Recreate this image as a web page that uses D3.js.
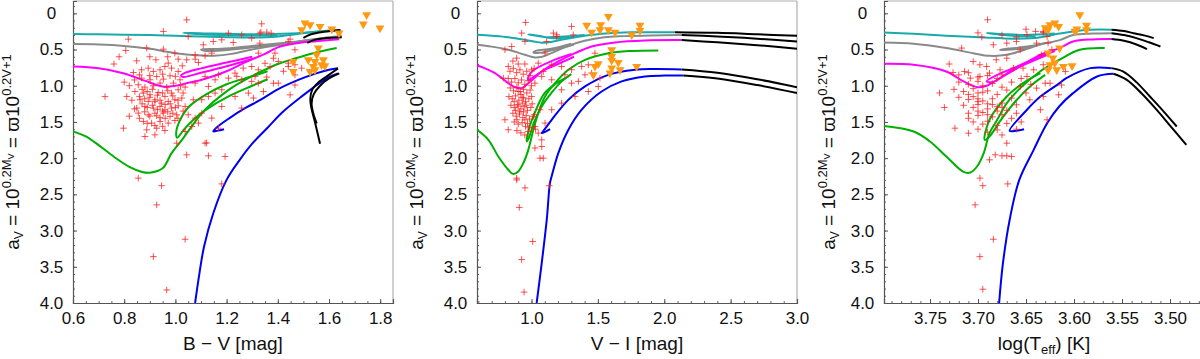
<!DOCTYPE html>
<html>
<head>
<meta charset="utf-8">
<script src="https://cdn.jsdelivr.net/npm/d3@7"></script>
<style>
body { margin: 0; background: #fff; }
svg { display: block; font-family: "Liberation Sans", "DejaVu Sans", sans-serif; }
</style>
</head>
<body>
<script>
// shared y axis (a_V)
const yTicks = [0, 0.5, 1.0, 1.5, 2.0, 2.5, 3.0, 3.5, 4.0];
const bvTicks = [0.6, 0.8, 1.0, 1.2, 1.4, 1.6, 1.8];
const viTicks = [1.0, 1.5, 2.0, 2.5, 3.0];
const teffTicks = [3.75, 3.70, 3.65, 3.60, 3.55, 3.50];

// ---- panel 1 : B-V ----
const bvStars = [
  [1.044,0.09],[0.953,0.25],[0.816,0.357],[0.806,0.513],[0.888,0.48],[0.953,0.495],[0.849,0.656],[0.924,0.642],
  [0.972,0.688],[0.998,0.55],[1.027,0.725],[1.044,0.642],[1.077,0.633],[1.09,0.68],[1.116,0.587],[1.142,0.55],
  [1.109,0.435],[1.148,0.389],[1.181,0.366],[1.207,0.274],[1.259,0.297],[1.226,0.403],[1.298,0.343],[1.33,0.274],
  [1.337,0.145],[1.05,0.32],[1.077,0.573],[1.011,0.633],
  [0.836,0.817],[0.868,0.78],[0.894,0.757],[0.914,0.803],[0.94,0.78],[0.959,0.734],[0.985,0.757],[1.011,0.803],
  [0.868,0.895],[0.901,0.918],[0.927,0.872],[0.953,0.909],[0.979,0.863],[0.855,0.987],[0.881,1.019],[0.914,1.001],
  [0.94,0.964],[0.966,1.019],[0.992,0.964],[1.018,0.918],[0.842,1.079],[0.875,1.102],[0.901,1.125],[0.933,1.093],
  [0.959,1.148],[0.985,1.102],[1.011,1.056],[1.038,1.019],[0.862,1.194],[0.894,1.217],[0.92,1.194],[0.946,1.24],
  [0.972,1.217],[0.998,1.194],[1.025,1.171],[0.881,1.286],[0.914,1.309],[0.94,1.286],[0.959,1.332],[0.985,1.309],
  [1.011,1.277],[0.855,1.378],[0.894,1.401],[0.927,1.415],[0.953,1.378],[0.979,1.424],[1.005,1.401],[0.875,1.493],
  [0.907,1.516],[0.94,1.493],[0.972,1.516],[0.998,1.48],[0.888,1.609],[0.927,1.586],[0.959,1.618],[0.881,1.701],
  [0.92,1.678],[0.81,1.148],[0.797,1.586],[0.849,1.309],[1.038,1.286],[1.05,1.401],[1.077,1.447],[1.103,1.378],
  [1.064,1.563],[1.09,1.516],[1.038,1.632],[1.005,1.793],[1.07,1.194],[1.103,1.194],[1.129,1.148],[1.155,1.102],
  [1.181,1.056],[1.129,1.01],[1.155,0.918],[1.077,0.964],[1.116,0.872],[1.168,0.849],[1.207,0.895],[1.233,0.826],
  [1.259,0.918],[1.265,0.757],[1.298,0.734],[1.311,0.872],[1.285,1.102],[1.233,1.148],[1.259,1.309],[1.181,1.286],
  [1.142,1.447],[1.168,1.586],[1.116,1.793],[1.044,1.954],[1.129,1.968],[1.194,1.977],[0.855,2.276],
  [1.334,0.26],[1.357,0.26],[1.374,0.274],[1.33,0.412],[1.441,0.389],[1.448,0.357],[1.467,0.504],[1.324,0.55],
  [1.389,0.55],[1.383,0.62],[1.402,0.665],[1.35,0.69],[1.37,0.735],[1.324,0.78],[1.441,0.688],[1.441,0.735],
  [1.467,0.71],[1.422,0.8],[1.493,0.757],[1.467,0.85],[1.357,0.88],[1.298,0.94],[1.324,0.965],[1.383,0.965],
  [1.402,0.965],[1.344,1.08],[1.448,1.126],[1.305,1.17],[1.467,0.99],
  [0.946,2.38],[0.927,2.645],[1.038,3.12],[0.914,3.36],[0.966,3.82],[1.181,2.355],[0.725,1.15],[1.122,1.79],[1.24,0.87],
  [0.87,1.05],[0.89,1.08],[0.91,1.05],[0.93,1.13],[0.95,1.1],[0.97,1.07],[0.99,1.14],[0.86,1.15],[0.88,1.18],
  [0.9,1.16],[0.92,1.22],[0.94,1.2],[0.96,1.26],[0.98,1.25],[1.0,1.3],[0.87,1.25],[0.89,1.3],[0.91,1.27],
  [0.93,1.33],[0.95,1.35],[0.97,1.36],[0.99,1.38],[0.88,1.36],[0.9,1.42],[0.92,1.38],[0.94,1.44],[0.96,1.45],
  [0.86,1.45],[0.89,1.52],[0.92,1.55],[0.95,1.56],[0.83,1.2],[0.84,1.32],[0.82,1.42],[0.8,0.95],[0.82,1.0],
  [0.84,0.92],[0.86,0.85],[0.9,0.86],[0.95,0.84],[1.0,0.87],[1.02,1.0],[1.03,1.1],[1.01,1.2],[1.03,1.35],
  [1.01,1.45],[0.78,0.6],[0.76,0.7],[0.9,0.6],[0.97,0.6]
];
const bvLimits = [
  [1.506,0.135],[1.493,0.228],[1.526,0.159],[1.565,0.182],[1.611,0.218],[1.639,0.273],[1.747,0.02],[1.734,0.149],
  [1.799,0.204],[1.558,0.48],[1.552,0.573],[1.545,0.666],[1.578,0.642],[1.571,0.711],[1.539,0.735],[1.584,0.725],
  [1.545,0.78],[1.526,0.804],[1.46,0.666],[1.46,0.804],[1.519,0.642]
];
const bvCyan = [
  [[0.6,0.285],[0.7,0.29],[0.8,0.295],[0.9,0.3],[1.0,0.31],[1.1,0.32],[1.2,0.33],[1.3,0.335],[1.4,0.32],[1.47,0.29],[1.53,0.26],[1.58,0.245],[1.64,0.23]],
  [[1.6,0.24],[1.45,0.28],[1.3,0.29],[1.15,0.28],[1.03,0.27],[1.1,0.29],[1.25,0.305],[1.4,0.31]]
];
const bvGray = [
  [[0.6,0.425],[0.7,0.43],[0.8,0.45],[0.9,0.49],[1.0,0.55],[1.08,0.58],[1.15,0.585],[1.22,0.56],[1.3,0.5],[1.4,0.44],[1.5,0.38],[1.58,0.34],[1.65,0.31]],
  [[1.6,0.33],[1.45,0.4],[1.3,0.45],[1.18,0.49],[1.1,0.5],[1.12,0.52],[1.25,0.49],[1.4,0.43],[1.55,0.36]]
];
const bvMagenta = [
  [[0.6,0.735],[0.7,0.76],[0.8,0.83],[0.88,0.93],[0.95,1.01],[1.0,1.0],[1.05,0.96],[1.1,0.92],[1.2,0.8],[1.27,0.68],[1.35,0.56],[1.4,0.47],[1.5,0.4],[1.55,0.385],[1.64,0.357]],
  [[1.3,0.6],[1.2,0.68],[1.1,0.76],[1.04,0.82],[1.022,0.86],[1.03,0.88],[1.1,0.82],[1.2,0.73],[1.3,0.63]]
];
const bvGreen = [
  [[0.6,1.63],[0.65,1.7],[0.7,1.82],[0.76,1.98],[0.82,2.12],[0.87,2.19],[0.9,2.2],[0.95,2.14],[0.985,1.93],[1.025,1.75],[1.064,1.56],[1.116,1.33],[1.207,1.06],[1.272,0.92],[1.337,0.8],[1.4,0.7],[1.47,0.62],[1.55,0.54],[1.63,0.48]],
  [[1.36,0.8],[1.3,0.87],[1.2,0.98],[1.12,1.12],[1.05,1.3],[1.015,1.5],[1.003,1.65],[1.007,1.72],[1.03,1.62],[1.07,1.47],[1.12,1.33],[1.2,1.16],[1.3,1.0],[1.36,0.91]]
];
const bvBlue = [
  [[1.077,4.0],[1.09,3.68],[1.112,3.22],[1.148,2.76],[1.2,2.3],[1.25,2.03],[1.3,1.8],[1.36,1.58],[1.42,1.36],[1.5,1.13],[1.56,0.97],[1.6,0.88],[1.635,0.83]],
  [[1.635,0.76],[1.6,0.78],[1.55,0.83],[1.48,0.92],[1.4,1.05],[1.33,1.2],[1.272,1.31],[1.21,1.45],[1.16,1.58],[1.148,1.63],[1.165,1.62],[1.19,1.6]]
];
const bvBlack = [
  [[1.635,0.76],[1.6,0.85],[1.56,0.95],[1.535,1.05],[1.527,1.18],[1.532,1.32],[1.545,1.5],[1.565,1.8]],
  [[1.64,0.83],[1.6,0.9],[1.565,1.0],[1.54,1.12],[1.532,1.25],[1.54,1.4],[1.552,1.52]],
  [[1.5,0.34],[1.53,0.29],[1.58,0.255],[1.645,0.23]],
  [[1.515,0.41],[1.54,0.37],[1.6,0.34],[1.65,0.33]]
];

// ---- panel 2 : V-I ----
const viStars = [
  [0.956,0.126],[0.926,0.273],[0.951,0.389],[0.8,0.504],[1.165,0.273],[1.19,0.297],[1.114,0.389],[1.302,0.181],
  [1.315,0.297],[1.478,0.55],[1.428,0.711],[1.403,0.849],[1.516,0.895],[1.503,1.01],[1.428,1.08],[1.353,0.94],
  [1.227,1.056],[1.252,0.849],[1.302,0.78],[1.152,0.711],[1.089,0.803],[1.051,0.688],
  [1.064,2.0],[1.089,2.0],[1.026,1.86],[1.077,1.84],[0.888,2.276],[0.825,1.608],[0.8,1.47],[0.889,2.30],
  [0.951,2.41],[0.908,2.68],[1.009,3.15],[0.926,3.40],[0.944,3.85],[1.134,2.38],
  [1.19,0.32],[1.102,0.55],[1.227,0.734],[1.152,0.918],[1.302,0.964],[1.378,0.734],[1.453,0.826],[1.328,1.148],
  [1.227,1.24],[1.152,1.332],[1.102,1.516],[1.051,1.655],[1.077,1.747],[1.026,1.563],[1.064,1.332],[1.014,1.424],
  [1.001,1.148],[1.026,0.964],[1.077,0.872],[1.001,0.78],[0.851,0.458],[0.888,0.619],[0.825,0.734],[0.788,0.895],
  [0.838,0.8],[0.863,0.76],[0.888,0.82],[0.913,0.78],[0.938,0.84],[0.964,0.8],[0.989,0.86],
  [0.825,0.9],[0.85,0.95],[0.875,0.9],[0.9,0.96],[0.925,0.92],[0.95,0.98],[0.975,0.93],[1.0,1.0],
  [0.84,1.03],[0.865,1.07],[0.89,1.02],[0.915,1.08],[0.94,1.05],[0.965,1.1],[0.99,1.06],
  [0.83,1.15],[0.855,1.18],[0.88,1.14],[0.905,1.2],[0.93,1.16],[0.955,1.22],[0.98,1.18],[1.005,1.25],
  [0.845,1.27],[0.87,1.3],[0.895,1.26],[0.92,1.32],[0.945,1.29],[0.97,1.34],[0.995,1.3],
  [0.86,1.38],[0.885,1.42],[0.91,1.39],[0.935,1.44],[0.96,1.41],[0.985,1.46],
  [0.87,1.5],[0.9,1.53],[0.93,1.51],[0.955,1.56],[0.98,1.58],[0.89,1.62],[0.92,1.65],[0.95,1.68],[0.975,1.63],
  [0.9,1.08],[0.92,1.12],[0.94,1.17],[0.96,1.27],[0.91,1.36],[0.89,1.47],[0.94,1.36],[0.87,1.22],[0.9,1.28],
  [0.95,1.47],[0.93,1.24],[0.88,1.34],[0.97,1.52],[1.02,1.4],[1.03,1.6],[0.86,0.66],[0.9,0.7],[0.95,0.7],[1.02,0.76]
];
const viLimits = [
  [1.579,0.044],[1.416,0.166],[1.453,0.261],[1.521,0.159],[1.516,0.228],[1.579,0.228],[1.629,0.261],[1.755,0.297],
  [1.817,0.166],[1.817,0.237],[1.604,0.504],[1.604,0.596],[1.604,0.651],[1.503,0.697],[1.478,0.734],[1.654,0.679],
  [1.604,0.757],[1.667,0.78],[1.591,0.826],[1.466,0.849],[1.792,0.734]
];
const viCyan = [
  [[0.59,0.296],[0.7,0.31],[0.825,0.33],[0.951,0.366],[1.02,0.39],[1.077,0.405],[1.13,0.4],[1.2,0.375],[1.328,0.33],[1.45,0.3],[1.579,0.275],[1.75,0.262],[1.9,0.26],[2.081,0.26]],
  [[1.4,0.3],[1.25,0.32],[1.12,0.33],[1.0,0.3],[0.976,0.29],[1.05,0.31],[1.18,0.345],[1.3,0.325]]
];
const viGray = [
  [[0.59,0.435],[0.7,0.46],[0.825,0.504],[0.951,0.573],[1.026,0.61],[1.08,0.6],[1.15,0.55],[1.277,0.45],[1.4,0.38],[1.55,0.33],[1.7,0.315],[1.9,0.305],[2.131,0.3]],
  [[1.3,0.42],[1.15,0.49],[1.03,0.52],[1.014,0.54],[1.06,0.545],[1.18,0.5],[1.32,0.43]]
];
const viMagenta = [
  [[0.59,0.72],[0.65,0.76],[0.725,0.826],[0.78,0.9],[0.825,0.965],[0.876,1.02],[0.926,1.033],[0.976,0.965],[1.03,0.88],[1.077,0.803],[1.202,0.665],[1.328,0.55],[1.453,0.458],[1.629,0.402],[1.855,0.375],[2.131,0.37]],
  [[1.3,0.56],[1.15,0.66],[1.02,0.78],[0.98,0.86],[0.976,0.92],[1.0,0.9],[1.08,0.8],[1.2,0.7],[1.32,0.6]]
];
const viGreen = [
  [[0.59,1.61],[0.675,1.747],[0.75,1.977],[0.825,2.16],[0.863,2.22],[0.9,2.184],[0.938,2.07],[0.976,1.885],[1.014,1.608],[1.051,1.378],[1.102,1.148],[1.177,0.965],[1.277,0.78],[1.403,0.642],[1.579,0.55],[1.75,0.52],[1.955,0.513]],
  [[1.28,0.87],[1.2,0.95],[1.1,1.1],[1.03,1.35],[0.98,1.6],[0.964,1.77],[0.98,1.72],[1.02,1.5],[1.077,1.286],[1.15,1.1],[1.227,0.94],[1.3,0.84]]
];
const viBlue = [
  [[1.039,4.0],[1.077,3.45],[1.115,2.85],[1.139,2.345],[1.152,2.25],[1.202,1.93],[1.277,1.61],[1.378,1.33],[1.528,1.08],[1.679,0.94],[1.855,0.872],[2.0,0.86],[2.144,0.86]],
  [[1.14,1.6],[1.11,1.63],[1.077,1.655],[1.1,1.6],[1.152,1.47],[1.277,1.195],[1.403,1.01],[1.579,0.85],[1.78,0.78],[1.918,0.77],[2.131,0.775]]
];
const viBlack = [
  [[2.081,0.26],[2.4,0.27],[2.7,0.29],[3.0,0.31]],
  [[2.131,0.3],[2.4,0.32],[2.7,0.35],[3.0,0.39]],
  [[2.131,0.37],[2.4,0.4],[2.7,0.44],[3.0,0.49]],
  [[2.131,0.775],[2.4,0.82],[2.7,0.91],[3.0,1.02]],
  [[2.144,0.86],[2.4,0.9],[2.7,0.99],[3.0,1.1]]
];

// ---- panel 3 : log Teff ----
const teffStars = [
  [3.69,0.089],[3.632,0.264],[3.66,0.389],[3.717,0.48],[3.696,0.329],[3.684,0.435],[3.67,0.412],[3.649,0.296],
  [3.628,0.32],[3.639,0.412],[3.656,0.504],[3.67,0.619],[3.681,0.642],[3.691,0.734],[3.698,0.711],[3.705,0.665],
  [3.714,0.803],[3.726,0.817],[3.708,0.895],[3.698,0.872],[3.688,0.826],[3.677,0.78],[3.663,0.757],[3.653,0.757],
  [3.642,0.78],[3.649,0.872],[3.656,1.01],[3.639,1.033],[3.632,1.148],[3.646,1.194],[3.66,1.263],[3.635,1.332],
  [3.628,1.47],[3.67,1.793],[3.682,1.954],[3.675,1.968],[3.67,1.968],[3.665,1.977],[3.688,2.023],[3.698,2.276],
  [3.724,1.586],[3.71,1.655],
  [3.695,2.38],[3.703,2.645],[3.684,3.12],[3.698,3.36],[3.695,3.81],[3.669,2.355],
  [3.72,0.85],[3.71,0.82],[3.70,0.88],[3.69,0.86],[3.68,0.9],[3.675,0.85],
  [3.72,0.95],[3.71,0.98],[3.70,0.94],[3.695,1.0],[3.685,0.97],[3.675,1.02],[3.665,0.95],
  [3.725,1.05],[3.715,1.08],[3.705,1.04],[3.7,1.1],[3.69,1.07],[3.68,1.12],[3.67,1.06],
  [3.72,1.16],[3.71,1.19],[3.705,1.15],[3.695,1.21],[3.685,1.18],[3.675,1.24],[3.665,1.17],
  [3.715,1.27],[3.705,1.3],[3.7,1.26],[3.69,1.32],[3.68,1.29],[3.67,1.34],
  [3.71,1.38],[3.70,1.41],[3.695,1.37],[3.685,1.43],[3.675,1.4],[3.665,1.45],
  [3.705,1.5],[3.695,1.53],[3.69,1.49],[3.68,1.55],[3.67,1.52],[3.70,1.6],[3.69,1.64],[3.68,1.61],[3.675,1.68],
  [3.71,1.12],[3.7,1.18],[3.69,1.25],[3.7,1.35],[3.69,1.4],[3.71,1.45],[3.695,1.09],[3.68,1.35],[3.70,1.22],
  [3.685,1.26],[3.675,1.3],[3.66,1.38],[3.655,1.5],[3.66,1.6],[3.65,1.1],[3.645,0.98],[3.655,0.9],[3.73,0.7],
  [3.735,1.3],[3.74,1.1],
  [3.70,0.27],[3.675,0.3],[3.66,0.33],[3.65,0.22],[3.64,0.25],[3.632,0.25],[3.627,0.41],[3.623,0.5],[3.632,0.71],
  [3.63,0.965],[3.625,0.965],[3.613,0.99],[3.616,1.125],[3.609,0.803],[3.634,0.573]
];
const teffLimits = [
  [3.625,0.158],[3.62,0.135],[3.616,0.182],[3.627,0.228],[3.594,0.02],[3.587,0.166],[3.599,0.25],[3.587,0.228],
  [3.597,0.218],[3.615,0.48],[3.627,0.55],[3.622,0.619],[3.62,0.688],[3.627,0.78],[3.618,0.78],[3.611,0.734],
  [3.602,0.725],[3.625,0.71],[3.63,0.2]
];
const teffCyan = [
  [[3.80,0.264],[3.767,0.283],[3.733,0.31],[3.698,0.33],[3.663,0.35],[3.645,0.345],[3.635,0.33],[3.615,0.28],[3.601,0.25],[3.583,0.227],[3.561,0.226]],
  [[3.62,0.28],[3.65,0.3],[3.675,0.285],[3.691,0.272],[3.68,0.29],[3.66,0.315],[3.64,0.32]]
];
const teffGray = [
  [[3.80,0.402],[3.767,0.42],[3.733,0.48],[3.705,0.55],[3.688,0.587],[3.67,0.573],[3.646,0.48],[3.635,0.43],[3.615,0.37],[3.601,0.3],[3.58,0.28],[3.561,0.274]],
  [[3.63,0.41],[3.64,0.44],[3.655,0.47],[3.67,0.49],[3.677,0.504],[3.665,0.5],[3.645,0.465]]
];
const teffMagenta = [
  [[3.80,0.697],[3.767,0.711],[3.733,0.803],[3.715,0.941],[3.701,1.02],[3.691,1.0],[3.677,0.895],[3.656,0.734],[3.635,0.57],[3.615,0.48],[3.601,0.389],[3.58,0.36],[3.561,0.356]],
  [[3.62,0.52],[3.64,0.62],[3.66,0.74],[3.68,0.85],[3.691,0.94],[3.685,0.95],[3.665,0.79],[3.645,0.67],[3.625,0.56]]
];
const teffGreen = [
  [[3.80,1.553],[3.767,1.632],[3.75,1.77],[3.733,1.977],[3.715,2.19],[3.708,2.198],[3.701,2.115],[3.694,1.93],[3.688,1.655],[3.68,1.47],[3.67,1.24],[3.656,1.033],[3.635,0.8],[3.615,0.64],[3.594,0.504],[3.568,0.48]],
  [[3.635,0.826],[3.653,0.964],[3.67,1.148],[3.688,1.47],[3.693,1.747],[3.688,1.7],[3.675,1.45],[3.66,1.2],[3.645,1.0],[3.63,0.85]]
];
const teffBlue = [
  [[3.678,4.0],[3.674,3.45],[3.667,2.85],[3.657,2.30],[3.642,1.885],[3.628,1.517],[3.615,1.28],[3.601,1.102],[3.576,0.872],[3.559,0.835]],
  [[3.652,1.6],[3.66,1.62],[3.667,1.622],[3.649,1.332],[3.635,1.15],[3.615,0.964],[3.608,0.895],[3.583,0.757],[3.561,0.757]]
];
const teffBlack = [
  [[3.561,0.226],[3.548,0.245],[3.538,0.274],[3.527,0.305],[3.517,0.343]],
  [[3.561,0.274],[3.548,0.3],[3.535,0.343],[3.522,0.4],[3.51,0.458]],
  [[3.561,0.356],[3.548,0.38],[3.535,0.43],[3.524,0.495]],
  [[3.561,0.757],[3.549,0.803],[3.535,0.95],[3.521,1.148],[3.507,1.35],[3.493,1.563]],
  [[3.559,0.835],[3.545,0.918],[3.53,1.1],[3.514,1.33],[3.5,1.55],[3.483,1.816]]
];

const trackColor = {
  cyan: "#1aaaaa", gray: "#8a8a8a", magenta: "#ff00ff",
  green: "#00b000", blue: "#0000f0", black: "#000000"
};

const W = 1200, H = 359;
const pw = 320, ph = 302, topY = 1;
const tickFont = 17, labelFont = 19;

const panels = [
  { left: 73, dom: [0.6, 1.85], ticks: bvTicks, step: 0.05, digits: 1, label: "bv", yl: 54,
    stars: bvStars, limits: bvLimits,
    tracks: [["cyan", bvCyan], ["gray", bvGray], ["magenta", bvMagenta], ["green", bvGreen], ["blue", bvBlue], ["black", bvBlack]] },
  { left: 477, dom: [0.5895, 3.0], ticks: viTicks, step: 0.1, digits: 1, label: "vi", yl: 54,
    stars: viStars, limits: viLimits,
    tracks: [["cyan", viCyan], ["gray", viGray], ["magenta", viMagenta], ["green", viGreen], ["blue", viBlue], ["black", viBlack]] },
  { left: 884, dom: [3.7979, 3.4646], ticks: teffTicks, step: 0.01, digits: 2, label: "teff", yl: 49,
    stars: teffStars, limits: teffLimits,
    tracks: [["cyan", teffCyan], ["gray", teffGray], ["magenta", teffMagenta], ["green", teffGreen], ["blue", teffBlue], ["black", teffBlack]] }
];

const svg = d3.select("body").append("svg")
  .attr("width", W)
  .attr("height", H);

const y = d3.scaleLinear().domain([-0.17, 4.0]).range([0, ph]);

panels.forEach(function (p, i) {
  const x = d3.scaleLinear().domain(p.dom).range([0, pw]);
  const g = svg.append("g").attr("transform", "translate(" + p.left + "," + topY + ")");

  g.append("defs").append("clipPath")
    .attr("id", "clip" + i)
    .append("rect")
    .attr("width", pw)
    .attr("height", ph);

  // frame: light top/right
  g.append("line").attr("x1", 0).attr("x2", pw).attr("y1", 0).attr("y2", 0)
    .attr("stroke", "#b0b0b0").attr("stroke-width", 1.2);
  g.append("line").attr("x1", pw).attr("x2", pw).attr("y1", 0).attr("y2", ph)
    .attr("stroke", "#b0b0b0").attr("stroke-width", 1.2);

  // minor ticks
  const lo = Math.min(p.dom[0], p.dom[1]), hi = Math.max(p.dom[0], p.dom[1]);
  const xMinor = d3.range(Math.ceil(lo / p.step) * p.step, hi, p.step);
  const yMinor = d3.range(-0.1, 4.0001, 0.1);

  const xAxisMinor = d3.axisBottom(x).tickValues(xMinor).tickSize(-2).tickFormat("");
  const yAxisMinor = d3.axisLeft(y).tickValues(yMinor).tickSize(-2).tickFormat("");
  g.append("g").attr("transform", "translate(0," + ph + ")").call(xAxisMinor)
    .call(a => a.select(".domain").remove())
    .selectAll("line").attr("stroke", "#666");
  g.append("g").call(yAxisMinor)
    .call(a => a.select(".domain").remove())
    .selectAll("line").attr("stroke", "#666");

  const xAxis = d3.axisBottom(x).tickValues(p.ticks).tickSize(-4).tickPadding(9)
    .tickFormat(d => d.toFixed(p.digits));
  const yAxis = d3.axisLeft(y).tickValues(yTicks).tickSize(-4)
    .tickFormat(d => d === 0 ? "0" : d.toFixed(1));

  const xa = g.append("g").attr("transform", "translate(0," + ph + ")").call(xAxis);
  xa.select(".domain").attr("stroke", "#555").attr("stroke-width", 1.2);
  xa.selectAll("line").attr("stroke", "#555");
  xa.selectAll("text").attr("font-size", tickFont).attr("fill", "#111")
    .attr("font-family", null);

  const ya = g.append("g").call(yAxis);
  ya.select(".domain").attr("stroke", "#555").attr("stroke-width", 1.2);
  ya.selectAll("line").attr("stroke", "#555");
  ya.selectAll("text").attr("font-size", tickFont).attr("fill", "#111")
    .attr("x", -21.5).attr("text-anchor", "middle");
  xa.attr("font-family", null);
  ya.attr("font-family", null);

  // plot content
  const plot = g.append("g").attr("clip-path", "url(#clip" + i + ")");
  const line = d3.line()
    .x(d => x(d[0]))
    .y(d => y(d[1]))
    .curve(d3.curveCatmullRom.alpha(0.5));

  p.tracks.forEach(function (t) {
    plot.append("g")
      .selectAll("path")
      .data(t[1])
      .enter().append("path")
      .attr("d", line)
      .attr("fill", "none")
      .attr("stroke", trackColor[t[0]])
      .attr("stroke-width", 2)
      .attr("stroke-linejoin", "round");
  });

  plot.append("g")
    .selectAll("path")
    .data(p.stars)
    .enter().append("path")
    .attr("transform", d => "translate(" + x(d[0]) + "," + y(d[1]) + ")")
    .attr("d", "M-3.3,0H3.3M0,-3.3V3.3")
    .attr("stroke", "#ff1a1a")
    .attr("stroke-opacity", 0.75)
    .attr("stroke-width", 1);

  const tri = d3.symbol().type(d3.symbolTriangle).size(34);
  plot.append("g")
    .selectAll("path")
    .data(p.limits)
    .enter().append("path")
    .attr("transform", d => "translate(" + x(d[0]) + "," + y(d[1]) + ") rotate(180)")
    .attr("d", tri)
    .attr("fill", "#ff9912");

  // x label
  const xl = g.append("text")
    .attr("x", pw / 2)
    .attr("y", ph + 47)
    .attr("text-anchor", "middle")
    .attr("font-size", labelFont)
    .attr("fill", "#111");
  if (p.label === "bv") xl.text("B \u2212 V [mag]");
  else if (p.label === "vi") xl.text("V \u2212 I [mag]");
  else {
    xl.append("tspan").text("log(T");
    xl.append("tspan").attr("font-size", 13).attr("dy", 4).text("eff");
    xl.append("tspan").attr("dy", -4).text(") [K]");
  }

  // y label
  const yt = g.append("text")
    .attr("transform", "translate(" + (-p.yl) + "," + (ph / 2) + ") rotate(-90)")
    .attr("text-anchor", "middle")
    .attr("font-size", labelFont)
    .attr("fill", "#111");
  yt.append("tspan").text("a");
  yt.append("tspan").attr("font-size", 12).attr("dy", 4).text("V");
  yt.append("tspan").attr("dy", -4).text(" = 10");
  yt.append("tspan").attr("font-size", 13).attr("dy", -8).text("0.2M");
  yt.append("tspan").attr("font-size", 9).attr("dy", 3).text("V");
  yt.append("tspan").attr("dy", 5).text(" = \u03D610");
  yt.append("tspan").attr("font-size", 13).attr("dy", -8).text("0.2V+1");
});
</script>
</body>
</html>
